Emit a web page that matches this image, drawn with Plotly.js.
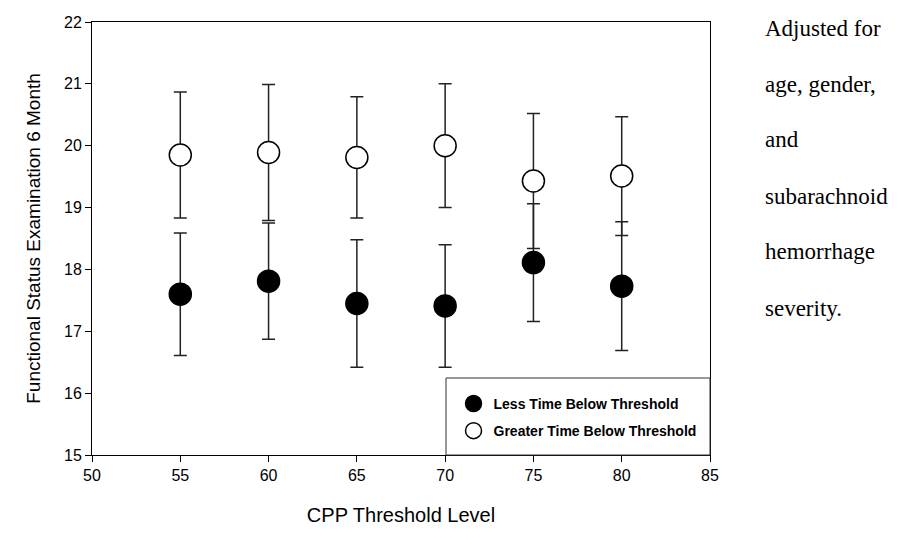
<!DOCTYPE html>
<html>
<head>
<meta charset="utf-8">
<script src="https://cdn.plot.ly/plotly-3.0.1.min.js"></script>
<style>html,body{margin:0;padding:0;background:#fff;}#chart{width:911px;height:546px;}</style>
</head>
<body>
<div id="chart"></div>
<script>
// CPP threshold levels (x)
const thresholds = [55, 60, 65, 70, 75, 80];
// Less Time Below Threshold (filled circles)
const lessMean = [17.60, 17.81, 17.45, 17.41, 18.11, 17.73];
const lessErr  = [0.99, 0.94, 1.03, 0.99, 0.95, 1.04];
// Greater Time Below Threshold (open circles)
const greaterMean = [19.85, 19.89, 19.81, 20.00, 19.43, 19.51];
const greaterErr  = [1.02, 1.10, 0.98, 1.00, 1.09, 0.96];
// Axis ticks
const xTicks = [50, 55, 60, 65, 70, 75, 80, 85];
const yTicks = [15, 16, 17, 18, 19, 20, 21, 22];
// Side note lines
const noteLines = ["Adjusted for", "age, gender,", "and", "subarachnoid", "hemorrhage", "severity."];

const errStyle = {type: 'data', visible: true, color: '#222', thickness: 1.5, width: 6.5};

const traces = [
  {
    x: thresholds, y: lessMean, type: 'scatter', mode: 'markers',
    name: 'Less Time Below Threshold',
    error_y: Object.assign({array: lessErr}, errStyle),
    marker: {symbol: 'circle', size: 22, color: '#000', line: {color: '#000', width: 1.5}},
    legendgroup: 'a'
  },
  {
    x: thresholds, y: greaterMean, type: 'scatter', mode: 'markers',
    name: 'Greater Time Below Threshold',
    error_y: Object.assign({array: greaterErr}, errStyle),
    marker: {symbol: 'circle', size: 22, color: '#fff', line: {color: '#000', width: 1.5}},
    legendgroup: 'b'
  }
];

// plot area: top at 22px, height 433px
const annotations = noteLines.map((t, i) => ({
  xref: 'paper', yref: 'paper', x: (763 - 92) / 618, y: 1 - ((28 + 56 * i) - 22) / 433,
  yanchor: 'middle', xanchor: 'left',
  text: t, showarrow: false,
  font: {family: 'Liberation Serif, Times New Roman, serif', size: 23, color: '#000'}
}));

const layout = {
  width: 911, height: 546,
  margin: {l: 92, r: 201, t: 22, b: 91},
  paper_bgcolor: '#fff', plot_bgcolor: '#fff',
  font: {family: 'Arial, Liberation Sans, sans-serif', color: '#000'},
  xaxis: {
    range: [50, 85], tickvals: xTicks, ticks: 'outside', ticklen: 6, tickwidth: 1, tickcolor: '#000',
    showgrid: false, zeroline: false, showline: true, linecolor: '#000', linewidth: 1, mirror: true,
    tickfont: {size: 16}, title: {text: 'CPP Threshold Level', font: {size: 20}, standoff: 24}
  },
  yaxis: {
    range: [15, 22], tickvals: yTicks, ticks: 'outside', ticklen: 6, tickwidth: 1, tickcolor: '#000',
    showgrid: false, zeroline: false, showline: true, linecolor: '#000', linewidth: 1, mirror: true,
    tickfont: {size: 16}, title: {text: 'Functional Status Examination 6 Month', font: {size: 19}, standoff: 18}
  },
  showlegend: true,
  legend: {
    x: 0.585, y: 0.155, xanchor: 'left', yanchor: 'top',
    bgcolor: 'rgba(0,0,0,0)', borderwidth: 0,
    font: {size: 14, family: 'Arial, Liberation Sans, sans-serif', weight: 'bold'},
    traceorder: 'grouped', tracegroupgap: 6, itemsizing: 'trace'
  },
  shapes: [{
    type: 'rect', xref: 'paper', yref: 'paper',
    x0: (446 - 92) / 618, x1: 1, y0: 0, y1: (455 - 378) / 433,
    line: {color: '#333', width: 1}, fillcolor: 'rgba(0,0,0,0)'
  }],
  annotations: annotations
};

Plotly.newPlot('chart', traces, layout, {displayModeBar: false, staticPlot: true});
</script>
</body>
</html>
